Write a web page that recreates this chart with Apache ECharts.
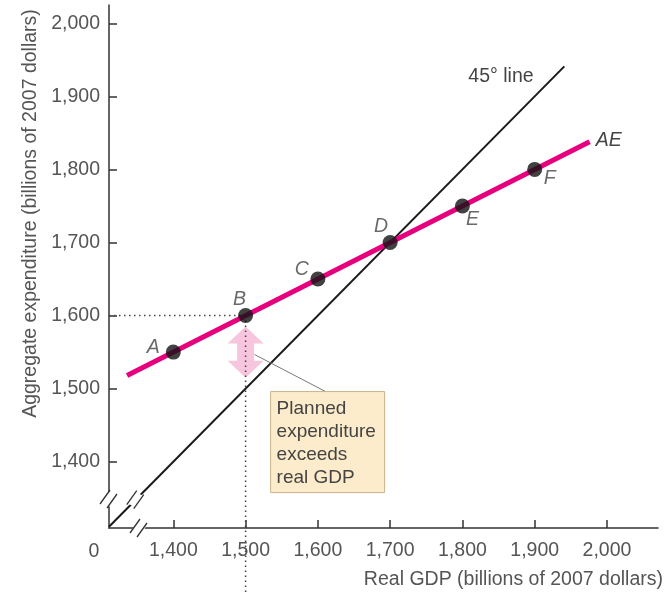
<!DOCTYPE html>
<html>
<head>
<meta charset="utf-8">
<script src="https://cdn.jsdelivr.net/npm/echarts@6/dist/echarts.min.js"></script>
<style>
  html, body { margin: 0; padding: 0; background: #fff; }
  #chart { width: 666px; height: 595px; }
</style>
</head>
<body>
<div id="chart"></div>
<script>
// Aggregate expenditure schedule
const realGDP = [1400, 1500, 1600, 1700, 1800, 1900];
const aggExpenditure = [1550, 1600, 1650, 1700, 1750, 1800];
const pointNames = ['A', 'B', 'C', 'D', 'E', 'F'];

// Extent of the AE line and the 45-degree line
const aeLineX = [1336, 1976];
const aeLineY = [1518, 1838];
const diagX = [1311, 1941];

// Tick labels
const xTicks = [1400, 1500, 1600, 1700, 1800, 1900, 2000];
const yTicks = [1400, 1500, 1600, 1700, 1800, 1900, 2000];

// Gap between planned expenditure and real GDP at point B
const gapArrow = [[1500, 1585, 1515]];

const FONT = '"Liberation Sans", Arial, sans-serif';
const TXT = '#555';
const FS = 19.5;
const fmt = v => v.toLocaleString('en-US');

// Axis ranges (the axes are broken just above the origin)
const X_MIN = 1311, X_MAX = 2070.6;
const Y_MIN = 1309.3, Y_MAX = 2025;

// label centre relative to each point, in pixels
const labelShift = [[-20, -5], [-6, -16], [-16, -9], [-9, -16], [10, 14], [15, 9]];

const chart = echarts.init(document.getElementById('chart'));

chart.setOption({
  animation: false,
  grid: { left: 109, right: 8, top: 5, bottom: 67 },
  xAxis: {
    type: 'value', min: X_MIN, max: X_MAX,
    axisLine: { lineStyle: { color: '#333', width: 1.5 } },
    axisTick: { inside: true, length: 8, customValues: xTicks, lineStyle: { color: '#333', width: 1.5 } },
    axisLabel: { customValues: xTicks, formatter: fmt, color: TXT, fontFamily: FONT, fontSize: FS, margin: 13 },
    splitLine: { show: false },
    name: 'Real GDP (billions of 2007 dollars)',
    nameLocation: 'end', nameGap: 5,
    nameTextStyle: { color: TXT, fontFamily: FONT, fontSize: FS, align: 'right', verticalAlign: 'top', padding: [42, 0, 0, 0] }
  },
  yAxis: {
    type: 'value', min: Y_MIN, max: Y_MAX,
    axisLine: { lineStyle: { color: '#333', width: 1.5 } },
    axisTick: { inside: true, length: 8, customValues: yTicks, lineStyle: { color: '#333', width: 1.5 } },
    axisLabel: { customValues: yTicks, formatter: fmt, color: TXT, fontFamily: FONT, fontSize: FS, margin: 9 },
    splitLine: { show: false },
    name: 'Aggregate expenditure (billions of 2007 dollars)',
    nameLocation: 'middle', nameGap: 65, nameRotate: 90,
    nameTextStyle: { color: TXT, fontFamily: FONT, fontSize: FS, padding: [0, 0, 0, 106] }
  },
  series: [
    {
      type: 'line', name: '45° line', silent: true,
      data: diagX.map(v => [v, v]),
      symbol: 'none', lineStyle: { color: '#1a1a1a', width: 2 },
      endLabel: { show: true, formatter: '45° line', color: '#444', fontFamily: FONT, fontSize: FS, offset: [-104, 10] }
    },
    {
      type: 'line', name: 'AE', silent: true,
      data: aeLineX.map((x, i) => [x, aeLineY[i]]),
      symbol: 'none', lineStyle: { color: '#e6007e', width: 5 },
      endLabel: { show: true, formatter: 'AE', color: '#444', fontStyle: 'italic', fontFamily: FONT, fontSize: FS, offset: [-2, -1] }
    },
    {
      type: 'line', name: 'guideH', silent: true,
      data: [[X_MIN, 1600], [1500, 1600]],
      symbol: 'none', lineStyle: { color: '#444', width: 1.5, type: [1.5, 3.5] }
    },
    {
      type: 'line', name: 'guideV', silent: true, clip: false,
      data: [[1500, 1600], [1500, 1220]],
      symbol: 'none', lineStyle: { color: '#444', width: 1.5, type: [1.5, 3.5] }
    },
    {
      type: 'custom', name: 'gap', silent: true,
      data: gapArrow,
      renderItem: (params, api) => {
        const top = api.coord([api.value(0), api.value(1)]);
        const bot = api.coord([api.value(0), api.value(2)]);
        const cx = top[0], hw = 18, sw = 8.5, hl = 17;
        const pts = [
          [cx, top[1]], [cx + hw, top[1] + hl], [cx + sw, top[1] + hl],
          [cx + sw, bot[1] - hl], [cx + hw, bot[1] - hl], [cx, bot[1]],
          [cx - hw, bot[1] - hl], [cx - sw, bot[1] - hl], [cx - sw, top[1] + hl],
          [cx - hw, top[1] + hl]
        ];
        return { type: 'polygon', shape: { points: pts }, style: { fill: 'rgba(244,178,210,0.75)' } };
      },
      z: 3
    },
    {
      type: 'scatter', name: 'points', silent: true,
      data: realGDP.map((x, i) => ({
        value: [x, aggExpenditure[i]],
        label: { position: [7.5 + labelShift[i][0], 7.5 + labelShift[i][1]] }
      })),
      symbolSize: 15, itemStyle: { color: '#111' },
      label: {
        show: true, formatter: p => pointNames[p.dataIndex],
        align: 'center', verticalAlign: 'middle',
        color: '#444', fontStyle: 'italic', fontFamily: FONT, fontSize: FS
      },
      z: 5
    }
  ]
});

// Annotations placed relative to the axes
function drawAnnotations() {
  const o = chart.convertToPixel({ gridIndex: 0 }, [X_MIN, Y_MIN]);
  const b = chart.convertToPixel({ gridIndex: 0 }, [1500, 1600]);
  const bx = b[0], by = b[1];
  const slash = (x, y) => ([
    { type: 'polygon', shape: { points: [[x - 8, y + 4], [x - 2, y - 8], [x + 8, y - 4], [x + 2, y + 8]] }, style: { fill: '#fff' }, z: 20 },
    { type: 'line', shape: { x1: x - 9, y1: y + 5, x2: x + 1, y2: y - 9 }, style: { stroke: '#333', lineWidth: 1.3 }, z: 21 },
    { type: 'line', shape: { x1: x - 2, y1: y + 9, x2: x + 8, y2: y - 5 }, style: { stroke: '#333', lineWidth: 1.3 }, z: 21 }
  ]);
  const d1 = chart.convertToPixel({ gridIndex: 0 }, [1348, 1348]);
  chart.setOption({
    graphic: [].concat(
      slash(o[0], o[1] - 29),
      slash(o[0] + 30, o[1]),
      slash(d1[0], d1[1]),
      [
        { type: 'text', x: o[0] - 15, y: o[1] + 23.5, style: { text: '0', fill: TXT, font: FS + 'px ' + FONT, align: 'center', verticalAlign: 'middle' }, z: 10 },
        { type: 'line', shape: { x1: bx + 9, y1: by + 39, x2: bx + 80, y2: by + 76 }, style: { stroke: '#777', lineWidth: 1 }, z: 9 },
        { type: 'rect', shape: { x: bx + 25, y: by + 76, width: 114, height: 101 }, style: { fill: '#fdeccb', stroke: '#c9b48a', lineWidth: 1 }, z: 10 },
        { type: 'text', x: bx + 31, y: by + 82, style: { text: 'Planned\nexpenditure\nexceeds\nreal GDP', fill: '#444', font: '19px ' + FONT, lineHeight: 23 }, z: 11 }
      ]
    )
  });
}
drawAnnotations();
</script>
</body>
</html>
